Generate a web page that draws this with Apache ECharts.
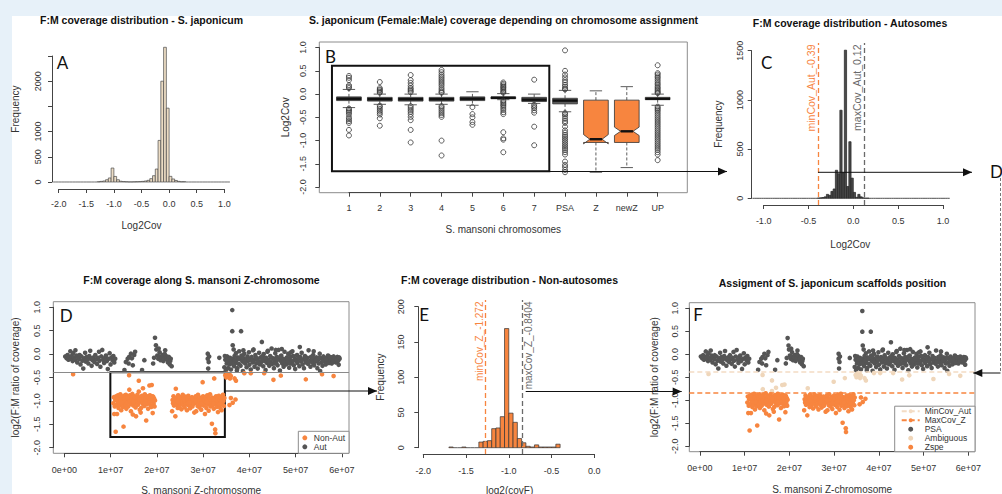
<!DOCTYPE html>
<html><head><meta charset="utf-8">
<script src="https://cdn.jsdelivr.net/npm/echarts@6/dist/echarts.min.js"></script>
<style>
html,body{margin:0;padding:0;background:#fff;}
#wrap{position:relative;width:1002px;height:494px;overflow:hidden;background:#fff;}
.strip{position:absolute;background:#e7f1f9;}
#chart{position:absolute;left:0;top:0;width:1002px;height:494px;}
</style></head><body>
<div id="wrap"><div class="strip" style="left:0;top:0;width:1002px;height:16px"></div><div class="strip" style="left:0;top:0;width:12px;height:494px"></div><div id="chart"></div></div>
<script>
// ---------------- DATA ----------------
// Panel A: histogram of log2 coverage, S. japonicum (bins of 0.05 starting at -2.1)
const aBreakStart = -2.1, aBinWidth = 0.05;
const aCounts = [0,0,0,0,0,0,0,0,0,0,0,0,0,0,0,0,
  5,12,20,45,80,277,110,45,15,8,5,2,2,4,6,8,12,20,33,66,125,257,825,2000,2673,1465,112,60,30,12,5,6,
  0,0,0,0,0,0,0,0,0,0,0,0,0,0,0,0];
const aXTickLabels = ['-2.0','-1.5','-1.0','-0.5','0.0','0.5','1.0'];
const aYTickLabels = ['0','500','1000','','2000',''];

// Panel B: boxplots per S. mansoni chromosome
const bCategories = ['1','2','3','4','5','6','7','PSA','Z','newZ','UP'];
const bWhiskerLow  = [-0.29,-0.22,-0.23,-0.22,-0.24,-0.12,-0.20,-0.38,-1.68,-1.58,-0.24];
const bQ1          = [-0.14,-0.15,-0.15,-0.15,-0.14,-0.10,-0.16,-0.21,-1.04,-1.04,-0.12];
const bMedian      = [-0.10,-0.11,-0.11,-0.11,-0.10,-0.08,-0.12,-0.14,-0.97,-0.80,-0.10];
const bQ3          = [-0.06,-0.07,-0.07,-0.07,-0.06,-0.06,-0.07,-0.09,-0.13,-0.13,-0.07];
const bWhiskerHigh = [0.10,0.00,0.00,0.00,0.05,0.01,0.00,0.08,0.07,0.16,0.00];
const bNotch       = [0,0,0,0,0,0,0,0,0.10,0.09,0];
const bOutliers = [
  [0.39,0.35,0.30,0.19,0.16,0.13,-0.31,-0.34,-0.37,-0.40,-0.44,-0.50,-0.54,-0.58,-0.62,-0.77,-0.89],
  [0.26,0.13,0.10,0.08,0.05,0.03,-0.25,-0.28,-0.32,-0.36,-0.40,-0.44,-0.52,-0.68],
  [0.41,0.30,0.24,0.18,0.13,0.10,0.07,0.04,-0.26,-0.30,-0.34,-0.38,-0.43,-0.49,-0.56,-0.77,-1.04],
  [0.52,0.47,0.42,0.38,0.34,0.30,0.26,0.22,0.18,0.13,0.09,0.05,0.03,-0.26,-0.29,-0.33,-0.37,-0.41,-0.45,-0.49,-1.00,-1.32],
  [-0.28,-0.43,-0.50,-0.60,-0.66],
  [0.25,0.22,0.19,0.16,0.14,0.11,0.08,0.05,0.03,-0.14,-0.17,-0.20,-0.23,-0.26,-0.30,-0.34,-0.39,-0.43,-0.82,-0.95,-0.98,-1.25],
  [0.31,-0.23,-0.27,-0.30,-0.35,-0.40,-0.70,-1.10],
  [0.94,0.50,0.42,0.36,0.30,0.25,0.20,0.16,0.12,0.10,-0.41,-0.44,-0.48,-0.53,-0.58,-0.62,-0.70,-0.78,-0.83,-0.88,-0.92,-0.96,-1.00,-1.04,-1.08,-1.12,-1.16,-1.20,-1.25,-1.30,-1.45,-1.52,-1.57,-1.63,-1.68],
  [],
  [],
  [0.62,0.45,0.42,0.38,0.35,0.31,0.27,0.23,0.20,0.16,0.13,0.10,0.07,0.04,0.02,-0.27,-0.30,-0.33,-0.36,-0.40,-0.44,-0.48,-0.52,-0.56,-0.60,-0.64,-0.68,-0.72,-0.76,-0.80,-0.84,-0.88,-0.92,-0.96,-1.00,-1.04,-1.08,-1.12,-1.16,-1.20,-1.25,-1.30,-1.42]
];
const bYTickLabels = ['-2.0','-1.5','-1.0','-0.5','0.0','0.5','1.0'];

// Panel C: autosome histogram (bins of 0.025 starting at -1.125)
const cBreakStart = -1.125, cBinWidth = 0.025;
const cCounts = [0,0,0,0,0,0,0,0,0,0,0,0,0,0,0,0,0,0,0,0,0,0,0,0,0,0,0,0,0,
  3,5,8,15,40,30,70,95,285,250,895,260,1505,120,575,205,60,10,40,15,5,2,2,
  0,0,0,0,0,0,0,0,0,0,0,0,0,0,0,0,0,0,0,0,0,0,0,0,0,0,0,0,0,0,0,0,0,0,0,0];
const cXTickLabels = ['-1.0','-0.5','0.0','0.5','1.0'];
const cYTickLabels = ['0','500','1000','1500'];
const minCovAut = -0.39, maxCovAut = 0.12;

// Panel E: non-autosome histogram (bins of 0.05 starting at -1.7)
const eBreakStart = -1.7, eBinWidth = 0.05;
const eCounts = [1,0,0,1,0,0,0,8,9,10,27,28,44,169,49,36,13,7,2,1,4,1,1,1,1,5];
const eXTickLabels = ['-2.0','-1.5','-1.0','-0.5','0.0'];
const eYTickLabels = ['0','50','100','150','200'];
const minCovZ = -1.272, maxCovZ = -0.8404;

// Panels D & F: scaffolds along S. mansoni Z (position in Mb, log2 F:M coverage)
const zScaffolds = [
  [0.2,-0.05],[0.5,-0.09],[0.7,-0.02],[0.9,-0.12],[1.1,-0.06],[1.3,0.06],[1.4,-0.1],[1.6,-0.04],[1.8,-0.15],[1.9,0.02],
  [2.1,-0.08],[2.3,-0.12],[2.4,0.08],[2.6,-0.03],[2.8,-0.18],[3.0,-0.07],[3.2,-0.11],[3.5,-0.22],[3.7,-0.05],[3.9,-0.14],
  [4.1,-0.31],[4.3,-0.09],[4.5,0.03],[4.6,-0.16],[4.8,-0.06],[5.0,-0.12],[5.2,-0.2],[5.4,-0.04],[5.6,0.07],[5.7,-0.1],
  [5.9,-0.25],[6.1,-0.13],[6.3,-0.07],[6.5,-0.17],[6.7,-0.02],[6.9,-0.11],[7.1,-0.21],[7.3,-0.08],[7.5,0.05],[7.6,-0.14],
  [7.8,-0.27],[8.0,-0.05],[8.2,0.09],[8.4,-0.12],[8.6,-0.19],[8.8,-0.08],[9.0,-0.03],[9.2,-0.15],[9.4,-0.32],[9.6,-0.1],
  [9.8,0.02],[10.0,-0.22],[10.2,-0.07],[10.4,-0.13],[10.6,-0.04],[10.8,-0.18],[11.0,-0.1],[3.3,-0.02],[6.0,-0.09],[8.9,-0.13],
  [13.0,-0.34],[13.3,-0.17],[13.7,-0.1],[14.0,-0.06],[14.4,0.01],[14.8,-0.24],[15.1,-0.02],[15.3,0.05],[16.8,-0.34],[17.3,-0.13],[13.9,-0.2],[14.6,-0.09],
  [19.2,-0.2],[19.4,-0.08],[19.6,0.35],[19.8,0.19],[19.9,0.1],[20.1,-0.03],[20.3,-0.1],[20.5,-0.05],[20.6,0.04],[20.8,-0.13],
  [21.0,-0.07],[21.2,-0.02],[21.4,-0.15],[21.6,-0.09],[21.8,0.08],[22.0,-0.04],[22.2,-0.12],[22.4,-0.18],[22.6,-0.06],[22.8,-0.22],
  [23.0,-0.1],[23.2,-0.26],[21.7,0.0],[20.4,0.12],[22.9,-0.15],
  [31.0,0.01],[31.0,-0.1],[31.2,-0.17],[31.1,-0.31],[31.3,-0.05],[33.5,-0.08],
  [34.6,-0.28],[34.8,-0.12],[34.9,-0.35],[35.1,-0.2],[35.2,-0.05],[35.4,-0.3],[35.5,-0.15],[35.7,-0.22],[35.8,-0.08],[36.0,-0.33],
  [36.1,-0.17],[36.3,0.94],[36.3,0.49],[36.4,0.19],[36.5,-0.1],[36.6,0.1],[36.7,-0.26],[36.8,-0.04],[37.0,-0.19],[37.1,0.02],
  [37.2,-0.13],[37.4,-0.3],[37.5,-0.07],[37.7,-0.21],[37.8,0.06],[38.0,-0.11],[38.2,0.49],[38.1,-0.25],[38.3,-0.03],[38.5,-0.16],
  [38.6,-0.36],[38.8,-0.09],[38.9,0.01],[39.1,-0.2],[39.3,-0.12],[39.4,-0.28],[39.6,-0.05],[39.7,-0.15],[39.9,0.04],[40.0,-0.23],
  [40.2,-0.1],[40.3,-0.33],[40.5,-0.06],[40.7,-0.18],[40.8,0.08],[41.0,-0.13],[41.1,-0.27],[41.3,-0.02],[41.5,-0.2],[41.6,-0.09],
  [41.8,-0.31],[41.9,-0.14],[42.1,0.03],[42.3,-0.22],[42.4,-0.07],[42.7,0.26],[42.6,-0.17],[42.8,-0.11],[43.0,-0.26],[43.1,0.0],
  [43.3,-0.15],[43.5,-0.34],[43.6,-0.08],[43.8,-0.19],[44.0,0.07],[44.1,-0.12],[44.3,-0.25],[44.5,-0.04],[44.6,-0.16],[44.8,0.12],
  [44.9,-0.21],[45.1,-0.09],[45.3,-0.3],[45.4,-0.13],[45.6,0.02],[45.8,-0.18],[45.9,-0.06],[46.1,-0.24],[46.3,0.09],[46.4,-0.11],
  [46.6,-0.35],[46.8,-0.15],[46.9,-0.03],[47.1,-0.2],[47.3,-0.1],[47.4,-0.27],[47.6,0.05],[47.8,-0.14],[47.9,-0.22],[48.1,-0.07],
  [48.3,-0.17],[48.4,0.01],[48.6,-0.29],[48.8,-0.12],[48.9,-0.05],[49.1,-0.2],[49.3,0.06],[49.4,-0.15],[49.6,-0.24],[49.8,-0.09],
  [49.9,-0.32],[50.1,-0.13],[50.3,-0.02],[50.4,-0.19],[50.6,-0.1],[50.9,0.15],[50.8,-0.26],[51.0,-0.06],[51.2,-0.16],[51.3,0.03],
  [51.5,-0.22],[51.7,-0.11],[51.8,-0.3],[52.0,-0.04],[52.2,-0.18],[52.3,-0.13],[52.5,-0.08],[52.7,-0.21],[52.8,0.08],[53.0,-0.15],
  [53.2,-0.27],[53.3,-0.06],[53.5,-0.12],[53.7,-0.19],[53.8,-0.02],[54.0,-0.24],[54.2,-0.1],[54.3,-0.16],[54.5,-0.07],[54.7,-0.3],
  [54.8,-0.13],[55.0,-0.2],[55.2,0.01],[55.3,-0.36],[55.5,-0.09],[55.7,-0.17],[55.8,-0.25],[56.0,-0.05],[56.2,-0.14],[56.3,-0.11],
  [56.5,-0.22],[56.7,-0.08],[56.8,-0.16],[57.0,-0.03],[57.2,-0.19],[57.3,-0.1],[57.5,-0.13],[57.7,-0.07],[57.8,-0.2],[58.0,-0.12],
  [58.2,-0.05],[58.3,-0.15],[58.5,-0.09],[58.7,-0.18],[58.8,-0.11],[59.0,-0.06],[59.2,-0.14],[59.3,-0.23],[59.5,-0.1],
  [36.9,-0.14],[37.6,-0.09],[38.4,-0.06],[39.0,-0.17],[39.8,-0.11],[40.6,-0.14],[41.4,-0.08],[42.0,-0.19],[42.9,-0.04],[43.4,-0.1],
  [44.2,-0.17],[44.7,-0.07],[45.5,-0.2],[46.0,-0.12],[46.7,-0.05],[47.5,-0.16],[48.2,-0.1],[48.7,-0.2],[49.5,-0.04],[50.2,-0.16],
  [50.7,-0.08],[51.4,-0.12],[52.1,-0.09],[52.9,-0.17],[53.6,-0.06],[54.4,-0.13],[55.1,-0.08],[55.9,-0.15],[56.6,-0.11],[57.4,-0.06],
  [58.1,-0.16],[58.9,-0.13],[59.4,-0.07],[35.9,-0.1],[36.2,-0.2],[35.3,-0.12],[34.7,-0.04],[37.3,-0.35],[38.7,0.08],[40.9,0.1],
  [43.9,0.05],[45.7,0.09],[47.0,0.11],[49.0,0.04],[53.9,0.06],
  [10.6,-1.05],[10.7,-0.92],[10.8,-1.28],[10.9,-1.12],[11.0,-0.98],[11.1,-1.66],[11.2,-0.9],[11.3,-1.08],[11.4,-1.28],[11.5,-1.0],
  [11.6,-0.88],[11.7,-1.15],[11.8,-1.03],[11.9,-0.95],[12.0,-1.1],[12.1,-0.86],[12.2,-1.0],[12.3,-1.2],[12.4,-0.93],[12.5,-1.06],
  [12.6,-0.98],[12.7,-1.13],[12.8,-1.55],[12.9,-0.89],[13.0,-1.02],[13.1,-0.95],[13.2,-1.09],[13.3,-0.87],[13.4,-1.17],[13.5,-0.99],
  [13.6,-1.04],[13.7,-0.91],[13.8,-1.12],[13.9,-0.96],[14.0,-0.45],[14.05,-0.76],[14.1,-1.01],[14.2,-0.88],[14.3,-1.07],[14.4,-1.22],
  [14.5,-0.94],[14.6,-1.0],[14.7,-0.85],[14.8,-1.29],[14.9,-1.1],[15.0,-0.97],[15.1,-0.9],[15.2,-1.05],[15.3,-0.93],[15.4,-1.14],
  [15.5,-1.33],[15.6,-1.0],[16.1,-0.57],[15.8,-0.87],[15.9,-1.08],[16.0,-0.95],[16.1,-0.8],[16.2,-1.03],[16.3,-1.19],[16.4,-0.92],
  [16.5,-1.25],[16.6,-1.15],[16.7,-0.98],[16.8,-0.89],[16.9,-1.06],[17.0,-0.73],[17.1,-1.0],[17.2,-0.94],[17.3,-1.11],[17.4,-0.86],
  [17.5,-1.02],[17.6,-0.96],[17.7,-1.42],[17.8,-1.07],[17.9,-0.9],[18.0,-1.0],[18.1,-1.17],[18.2,-0.93],[18.3,-1.04],[18.4,-0.67],
  [18.5,-0.88],[18.6,-1.09],[18.7,-0.97],[18.8,-1.13],[18.9,-0.66],[19.0,-1.01],[19.1,-1.26],[19.2,-0.91],[19.3,-1.06],[19.4,-0.95],
  [19.5,-1.12],[19.6,-0.99],[11.3,-0.96],[12.4,-1.04],[13.6,-0.92],[14.9,-1.02],[16.2,-0.97],[17.4,-1.05],[18.6,-0.95],[19.0,-0.9],
  [23.3,-1.22],[23.4,-0.98],[23.5,-1.05],[23.6,-0.9],[23.7,-1.1],[23.8,-0.95],[23.9,-1.02],[24.0,-1.33],[24.1,-0.74],[24.2,-1.08],
  [24.3,-0.93],[24.4,-1.0],[24.5,-1.15],[24.6,-0.88],[24.7,-1.04],[24.8,-0.97],[24.9,-1.12],[25.0,-0.92],[25.1,-1.06],[25.2,-0.99],
  [25.3,-1.18],[25.4,-0.94],[25.5,-1.03],[25.6,-0.87],[25.7,-1.09],[25.8,-1.0],[25.9,-0.95],[26.0,-1.14],[26.1,-1.01],[26.2,-0.91],
  [26.3,-1.07],[26.4,-0.98],[26.5,-1.2],[26.6,-0.96],[26.7,-1.05],[26.8,-0.89],[26.9,-1.1],[27.0,-1.0],[27.1,-0.94],[27.2,-1.16],
  [27.3,-1.03],[27.4,-0.97],[27.5,-1.08],[27.6,-0.92],[27.7,-1.12],[27.8,-1.0],[27.9,-0.95],[28.0,-1.06],[28.1,-1.25],[28.2,-0.99],
  [28.3,-1.04],[28.4,-0.9],[28.5,-1.22],[28.6,-1.01],[28.7,-0.96],[28.8,-1.11],[28.9,-0.87],[29.0,-1.05],[29.1,-0.98],[29.2,-1.14],
  [29.3,-1.0],[29.4,-0.93],[29.5,-1.08],[29.6,-1.19],[29.7,-0.95],[29.8,-1.03],[29.9,-0.6],[30.0,-0.9],[30.1,-1.1],[30.2,-0.97],
  [30.3,-1.06],[30.4,-1.28],[30.5,-0.92],[30.6,-1.02],[30.7,-1.15],[30.8,-0.98],[30.9,-0.88],[31.0,-1.07],[31.1,-1.0],[31.2,-1.21],
  [31.3,-0.94],[31.4,-1.04],[31.5,-0.86],[31.6,-1.12],[31.7,-0.99],[31.8,-1.05],[31.9,-1.49],[32.0,-0.93],[32.1,-1.09],[32.2,-1.0],
  [32.3,-1.17],[32.4,-0.52],[32.5,-0.96],[32.6,-1.61],[32.65,-1.69],[32.7,-1.06],[32.8,-0.9],[32.9,-1.13],[33.0,-1.01],[33.1,-0.95],
  [33.2,-1.24],[33.3,-1.04],[33.4,-0.89],[33.5,-1.1],[33.6,-0.98],[33.7,-1.15],[33.8,-0.93],[33.9,-1.02],[34.0,-1.2],[34.1,-0.96],
  [34.2,-1.07],[34.3,-0.87],[34.4,-1.0],[34.5,-1.11],[34.6,-0.94],[24.6,-1.02],[25.8,-0.96],[27.0,-1.04],[28.4,-1.0],[29.6,-1.06],[30.8,-1.03],[32.2,-1.05],[33.6,-1.07],
  [1.9,-0.43],[34.8,-0.45],[35.0,-0.5],[35.2,-0.42],[35.3,-0.48],[35.5,-0.44],[35.7,-0.43],[35.8,-0.52],[36.0,-0.47],[36.8,-0.52],
  [37.1,-0.57],[36.0,-0.94],[37.0,-0.97],[35.7,-1.09],[36.4,-1.04],[38.9,-0.41],[40.3,-0.41],[43.2,-0.41],[45.2,-0.55],[46.8,-0.46],
  [52.2,-0.54],[55.7,-0.43],[58.2,-0.47]
];
const zXTickLabels = ['0e+00','1e+07','2e+07','3e+07','4e+07','5e+07','6e+07'];
const zYTickLabels = ['-2.0','-1.5','-1.0','-0.5','0.0','0.5','1.0'];

// ---------------- STYLE ----------------
const FONT = '"Liberation Sans", Arial, Helvetica, sans-serif';
const LFONT = 'Lato, "Open Sans", sans-serif';
const TXT = '#333', AXIS = '#444', FRAME = '#8c8c8c';
const GREY = '#555555', ORANGE = '#f7853f', BEIGE = '#efd6ba', BEIGE_LINE = '#f3dcc4', DGREY = '#6a6a6a';

const grids = [], xAxes = [], yAxes = [], series = [];
const nameStyle = {fontFamily: FONT, fontSize: 10, color: TXT};
function addPanel(p, xt, yt, ax, framed) {
  const gi = grids.length;
  const W = p.r - p.l, H = p.b - p.t;
  grids.push({left: p.l, top: p.t, width: W, height: H, show: !!framed, borderColor: FRAME, borderWidth: 1,
    backgroundColor: 'rgba(0,0,0,0)', outerBoundsMode: 'none', containLabel: false});
  xAxes.push({gridIndex: gi, type: 'value', min: p.xlim[0], max: p.xlim[1], axisLine: {show: false, onZero: false},
    axisTick: {show: false}, axisLabel: {show: false}, splitLine: {show: false},
    name: ax.xName, nameLocation: 'middle', nameGap: ax.xGap, nameTextStyle: nameStyle});
  yAxes.push({gridIndex: gi, type: 'value', min: p.ylim[0], max: p.ylim[1], axisLine: {show: false, onZero: false},
    axisTick: {show: false}, axisLabel: {show: false}, splitLine: {show: false},
    name: ax.yName, nameLocation: 'middle', nameGap: ax.yGap, nameTextStyle: nameStyle});
  const px = v => p.l + (v - p.xlim[0]) / (p.xlim[1] - p.xlim[0]) * W;
  const py = v => p.b - (v - p.ylim[0]) / (p.ylim[1] - p.ylim[0]) * H;
  const ai = grids.length;
  const gl = px(xt.min), gr = px(xt.max), gt = py(yt.max), gb = py(yt.min);
  grids.push({left: gl, top: gt, width: gr - gl, height: gb - gt, show: false, outerBoundsMode: 'none', containLabel: false});
  const ls = {color: AXIS, width: 1};
  const lab = {fontFamily: FONT, fontSize: 9, color: TXT, showMinLabel: true, showMaxLabel: true, hideOverlap: false};
  xAxes.push({gridIndex: ai, type: 'value', position: 'bottom', min: xt.min, max: xt.max, interval: xt.step,
    offset: p.b - gb, axisLine: {show: true, onZero: false, lineStyle: ls}, axisTick: {show: true, length: 4, lineStyle: ls},
    axisLabel: Object.assign({margin: ax.xMargin, formatter: v => xt.labels[Math.round((v - xt.min) / xt.step)]}, lab),
    splitLine: {show: false}});
  yAxes.push({gridIndex: ai, type: 'value', position: 'left', min: yt.min, max: yt.max, interval: yt.step,
    offset: gl - p.l, axisLine: {show: true, onZero: false, lineStyle: ls}, axisTick: {show: true, length: 4, lineStyle: ls},
    axisLabel: Object.assign({rotate: 90, margin: ax.yMargin, formatter: v => yt.labels[Math.round((v - yt.min) / yt.step)]}, lab),
    splitLine: {show: false}});
  return gi;
}

function histData(start, width, counts) {
  return counts.map((c, k) => [start + k * width, start + (k + 1) * width, c]);
}
function histRender(fill, stroke) {
  return function (params, api) {
    const a = api.coord([api.value(0), api.value(2)]);
    const b = api.coord([api.value(1), 0]);
    if (api.value(2) === 0) {
      return {type: 'line', shape: {x1: a[0], y1: b[1], x2: b[0], y2: b[1]}, style: {stroke: stroke, lineWidth: 0.8}};
    }
    return {type: 'rect', shape: {x: a[0], y: a[1], width: b[0] - a[0], height: b[1] - a[1]},
      style: {fill: fill, stroke: stroke, lineWidth: 0.7}};
  };
}

// ---------- Panel A ----------
const gA = addPanel({l: 52, r: 231, t: 29, b: 189, xlim: [-2.12, 1.12], ylim: [-139, 3036]},
  {min: -2, max: 1, step: 0.5, labels: aXTickLabels}, {min: 0, max: 2500, step: 500, labels: aYTickLabels},
  {xName: 'Log2Cov', xGap: 31, yName: 'Frequency', yGap: 32, xMargin: 10, yMargin: 9.5});
series.push({type: 'custom', xAxisIndex: gA, yAxisIndex: gA, data: histData(aBreakStart, aBinWidth, aCounts),
  encode: {x: [0, 1], y: 2}, renderItem: histRender('#ecdcc4', '#4a4a4a'), clip: false, silent: true});

// ---------- Panel B ----------
const gB = addPanel({l: 319.3, r: 687.3, t: 42, b: 192.7, xlim: [0.04, 11.96], ylim: [-2.12, 1.12]},
  {min: 1, max: 11, step: 1, labels: bCategories}, {min: -2, max: 1, step: 0.5, labels: bYTickLabels},
  {xName: 'S. mansoni chromosomes', xGap: 31.8, yName: 'Log2Cov', yGap: 29.3, xMargin: 11, yMargin: 11.5}, true);
const bBoxFill = bCategories.map((c, i) => i < 8 ? '#5a5a5a' : (i < 10 ? ORANGE : '#efe3d3'));
const bBoxData = bCategories.map((c, i) => [i + 1, bWhiskerLow[i], bQ1[i], bMedian[i], bQ3[i], bWhiskerHigh[i], bNotch[i]]);
series.push({type: 'custom', xAxisIndex: gB, yAxisIndex: gB, data: bBoxData, encode: {x: 0, y: [1, 5]}, clip: false, silent: true,
  renderItem: function (params, api) {
    const x = api.value(0), lo = api.value(1), q1 = api.value(2), md = api.value(3), q3 = api.value(4), hi = api.value(5), n = api.value(6);
    const C = (a, b) => api.coord([a, b]);
    const w = 0.4, cw = 0.2;
    const ch = [];
    const dash = {stroke: '#333', lineWidth: 0.8, lineDash: [3, 2], fill: null};
    const solid = {stroke: '#333', lineWidth: 0.8, fill: null};
    const L = (p1, p2, st) => ch.push({type: 'line', shape: {x1: p1[0], y1: p1[1], x2: p2[0], y2: p2[1]}, style: st});
    L(C(x, q3), C(x, hi), dash); L(C(x, q1), C(x, lo), dash);
    L(C(x - cw, hi), C(x + cw, hi), solid); L(C(x - cw, lo), C(x + cw, lo), solid);
    let pts;
    if (n > 0) {
      pts = [C(x - w, q1), C(x - w, md - n), C(x - w / 2, md), C(x - w, md + n), C(x - w, q3),
             C(x + w, q3), C(x + w, md + n), C(x + w / 2, md), C(x + w, md - n), C(x + w, q1)];
    } else {
      pts = [C(x - w, q1), C(x - w, q3), C(x + w, q3), C(x + w, q1)];
    }
    ch.push({type: 'polygon', shape: {points: pts}, style: {fill: bBoxFill[params.dataIndex], stroke: '#333', lineWidth: 0.8}});
    const mw = n > 0 ? w / 2 : w;
    L(C(x - mw, md), C(x + mw, md), {stroke: '#111', lineWidth: 2.4, fill: null});
    return {type: 'group', children: ch};
  }});
const bOutData = [];
bOutliers.forEach((arr, i) => arr.forEach(v => bOutData.push([i + 1, v])));
series.push({type: 'scatter', xAxisIndex: gB, yAxisIndex: gB, data: bOutData, symbol: 'circle', symbolSize: 5, silent: true,
  itemStyle: {color: 'rgba(255,255,255,0)', borderColor: '#333', borderWidth: 0.8, opacity: 1},
  markArea: {silent: true, itemStyle: {color: 'rgba(0,0,0,0)', borderColor: '#111', borderWidth: 2},
    data: [[{coord: [0.45, 0.61]}, {coord: [7.49, -1.66]}]]}});

// ---------- Panel C ----------
const gC = addPanel({l: 751.7, r: 949, t: 43, b: 205, xlim: [-1.133, 1.067], ylim: [-68, 1578]},
  {min: -1, max: 1, step: 0.5, labels: cXTickLabels}, {min: 0, max: 1500, step: 500, labels: cYTickLabels},
  {xName: 'Log2Cov', xGap: 34, yName: 'Frequency', yGap: 28.7, xMargin: 11.5, yMargin: 7.2});
series.push({type: 'custom', xAxisIndex: gC, yAxisIndex: gC, data: histData(cBreakStart, cBinWidth, cCounts),
  encode: {x: [0, 1], y: 2}, renderItem: histRender('#4a4a4a', '#222'), clip: false, silent: true});
function vMarkLines(items, size) {
  return {silent: true, symbol: 'none', animation: false, data: items.map(it => ({
    xAxis: it.v, lineStyle: {color: it.color, type: [5, 3], width: 1.3},
    label: {show: true, formatter: it.text, position: it.pos, color: it.color, fontSize: size, fontFamily: FONT, distance: 1.5}
  }))};
}
series.push({type: 'line', xAxisIndex: gC, yAxisIndex: gC, data: [], silent: true,
  markLine: vMarkLines([
    {v: minCovAut, color: ORANGE, text: 'minCov_Aut_' + minCovAut, pos: 'insideEndTop'},
    {v: maxCovAut, color: DGREY, text: 'maxCov_Aut_' + maxCovAut, pos: 'insideEndTop'}], 10.5)});

// ---------- Panel D ----------
const gD = addPanel({l: 53.3, r: 349, t: 301.7, b: 453.3, xlim: [-2.38, 61.53], ylim: [-2.12, 1.12]},
  {min: 0, max: 60, step: 10, labels: zXTickLabels}, {min: -2, max: 1, step: 0.5, labels: zYTickLabels},
  {xName: 'S. mansoni Z-chromosome', xGap: 31.7, yName: 'log2(F:M ratio of coverage)', yGap: 33.3, xMargin: 12.5, yMargin: 12}, true);
const zAut = zScaffolds.filter(d => d[1] >= minCovAut);
const zNonAut = zScaffolds.filter(d => d[1] < minCovAut);
series.push({name: 'Aut', type: 'scatter', xAxisIndex: gD, yAxisIndex: gD, data: zAut, symbolSize: 4.6, silent: true,
  itemStyle: {color: GREY, opacity: 1}, z: 3,
  markLine: {silent: true, symbol: 'none', label: {show: false}, lineStyle: {color: '#8a8a8a', width: 1, type: 'solid'},
    data: [{yAxis: minCovAut}]}});
series.push({name: 'Non-Aut', type: 'scatter', xAxisIndex: gD, yAxisIndex: gD, data: zNonAut, symbolSize: 4.6, silent: true,
  itemStyle: {color: ORANGE, opacity: 1}, z: 3,
  markArea: {silent: true, itemStyle: {color: 'rgba(0,0,0,0)', borderColor: '#111', borderWidth: 2},
    data: [[{coord: [9.95, -0.39]}, {coord: [34.7, -1.77]}]]}});

// ---------- Panel E ----------
const gE = addPanel({l: 418.3, r: 601, t: 300, b: 454, xlim: [-2.058, 0.078], ylim: [-8.94, 209.5]},
  {min: -2, max: 0, step: 0.5, labels: eXTickLabels}, {min: 0, max: 200, step: 50, labels: eYTickLabels},
  {xName: 'log2(covF)', xGap: 31, yName: 'Frequency', yGap: 33.3, xMargin: 12, yMargin: 12.5});
series.push({type: 'custom', xAxisIndex: gE, yAxisIndex: gE, data: histData(eBreakStart, eBinWidth, eCounts),
  encode: {x: [0, 1], y: 2}, renderItem: histRender(ORANGE, '#333'), clip: false, silent: true});
series.push({type: 'line', xAxisIndex: gE, yAxisIndex: gE, data: [], silent: true,
  markLine: vMarkLines([
    {v: minCovZ, color: ORANGE, text: 'minCov_Z_' + minCovZ, pos: 'insideEndTop'},
    {v: maxCovZ, color: DGREY, text: 'maxCov_Z_' + maxCovZ, pos: 'insideEndBottom'}], 10)});

// ---------- Panel F ----------
const gF = addPanel({l: 689.3, r: 975, t: 302.7, b: 451.7, xlim: [-2.39, 61.5], ylim: [-2.12, 1.12]},
  {min: 0, max: 60, step: 10, labels: zXTickLabels}, {min: -2, max: 1, step: 0.5, labels: zYTickLabels},
  {xName: 'S. mansoni Z-chromosome', xGap: 32.6, yName: 'log2(F:M ratio of coverage)', yGap: 30.3, xMargin: 12, yMargin: 10}, true);
const fPSA = zScaffolds.filter(d => d[1] >= minCovAut);
const fAmb = zScaffolds.filter(d => d[1] < minCovAut && d[1] >= maxCovZ);
const fZspe = zScaffolds.filter(d => d[1] < maxCovZ);
series.push({name: 'MinCov_Aut', type: 'line', xAxisIndex: gF, yAxisIndex: gF, data: [], symbol: 'none', silent: true, z: 1,
  lineStyle: {color: BEIGE_LINE, type: [5, 3], width: 1.5}, itemStyle: {color: BEIGE_LINE},
  markLine: {silent: true, symbol: 'none', label: {show: false}, lineStyle: {color: BEIGE_LINE, type: [5, 3], width: 1.5}, data: [{yAxis: minCovAut}]}});
series.push({name: 'MaxCov_Z', type: 'line', xAxisIndex: gF, yAxisIndex: gF, data: [], symbol: 'none', silent: true, z: 1,
  lineStyle: {color: ORANGE, type: [5, 3], width: 1.5}, itemStyle: {color: ORANGE},
  markLine: {silent: true, symbol: 'none', label: {show: false}, lineStyle: {color: ORANGE, type: [5, 3], width: 1.5}, data: [{yAxis: maxCovZ}]}});
series.push({name: 'PSA', type: 'scatter', xAxisIndex: gF, yAxisIndex: gF, data: fPSA, symbolSize: 4.6, silent: true, itemStyle: {color: GREY, opacity: 1}, z: 3});
series.push({name: 'Ambiguous', type: 'scatter', xAxisIndex: gF, yAxisIndex: gF, data: fAmb, symbolSize: 4.6, silent: true, itemStyle: {color: BEIGE, opacity: 1}, z: 3});
series.push({name: 'Zspe', type: 'scatter', xAxisIndex: gF, yAxisIndex: gF, data: fZspe, symbolSize: 4.6, silent: true, itemStyle: {color: ORANGE, opacity: 1}, z: 3});

// ---------------- TITLES / LEGENDS / ANNOTATIONS ----------------
const titleStyle = {fontFamily: FONT, fontSize: 10.5, fontWeight: 'bold', color: '#111'};
const titles = [
  ['F:M coverage distribution - S. japonicum', 141.5, 20],
  ['S. japonicum (Female:Male) coverage depending on chromosome assignment', 503.5, 20],
  ['F:M coverage distribution - Autosomes', 850, 22.5],
  ['F:M coverage along S. mansoni Z-chromosome', 201.5, 280],
  ['F:M coverage distribution - Non-autosomes', 509.5, 280],
  ['Assigment of S. japonicum scaffolds position', 832.5, 283]
].map(t => ({text: t[0], left: t[1], top: t[2], textAlign: 'center', textVerticalAlign: 'middle', padding: 0, textStyle: titleStyle}));

const legendText = {fontFamily: FONT, fontSize: 8.5, color: TXT, lineHeight: 7};
const legends = [
  {data: [{name: 'Non-Aut', icon: 'circle'}, {name: 'Aut', icon: 'circle'}], orient: 'vertical', right: 653, bottom: 40.7,
    padding: [2, 4, 2, 4], itemGap: 0, itemWidth: 8, itemHeight: 5, textStyle: legendText, selectedMode: false,
    borderColor: FRAME, borderWidth: 1, backgroundColor: '#fff', borderRadius: 0},
  {data: ['MinCov_Aut', 'MaxCov_Z', {name: 'PSA', icon: 'circle'}, {name: 'Ambiguous', icon: 'circle'}, {name: 'Zspe', icon: 'circle'}],
    orient: 'vertical', right: 27, bottom: 42.3, padding: [0.5, 4, 0, 6], itemGap: 0, itemWidth: 18, itemHeight: 5,
    textStyle: legendText, selectedMode: false, borderColor: FRAME, borderWidth: 1, backgroundColor: '#fff', borderRadius: 0}
];

const graphics = [];
function txt(s, x, y, size) {
  graphics.push({type: 'text', x: x, y: y, z: 100, silent: true,
    style: {text: s, fontFamily: LFONT, fontSize: size, fill: '#111', align: 'left', verticalAlign: 'middle', textAlign: 'left', textVerticalAlign: 'middle'}});
}
function arrow(x1, y1, x2, y2) {
  graphics.push({type: 'line', z: 100, silent: true, shape: {x1: x1, y1: y1, x2: x2, y2: y2}, style: {stroke: '#111', lineWidth: 1}});
  const d = Math.sign(x2 - x1);
  graphics.push({type: 'polygon', z: 100, silent: true, shape: {points: [[x2, y2], [x2 - d * 9, y2 - 4], [x2 - d * 9, y2 + 4]]}, style: {fill: '#111'}});
}
[['A', 56.7, 62], ['B', 325, 56.3], ['C', 761, 62], ['D', 59.7, 315.5], ['E', 419.3, 314.7], ['F', 693.3, 314.7]].forEach(l => txt(l[0], l[1], l[2], 17));
arrow(549.3, 171.5, 727, 171.5);
arrow(818, 172.3, 972, 172.3);
txt('D', 990, 171, 17);
graphics.push({type: 'line', z: 100, silent: true, shape: {x1: 1000.5, y1: 178, x2: 1000.5, y2: 373}, style: {stroke: '#777', lineWidth: 1, lineDash: [3, 2]}});
arrow(1000.5, 373, 973.3, 373);
arrow(225.3, 391, 377, 391);
arrow(525.7, 391.5, 681.7, 391.5);

const chart = echarts.init(document.getElementById('chart'), null, {renderer: 'svg', width: 1002, height: 494});
chart.setOption({
  animation: false,
  backgroundColor: 'rgba(0,0,0,0)',
  title: titles,
  legend: legends,
  grid: grids,
  xAxis: xAxes,
  yAxis: yAxes,
  series: series,
  graphic: graphics
});
</script></body></html>
